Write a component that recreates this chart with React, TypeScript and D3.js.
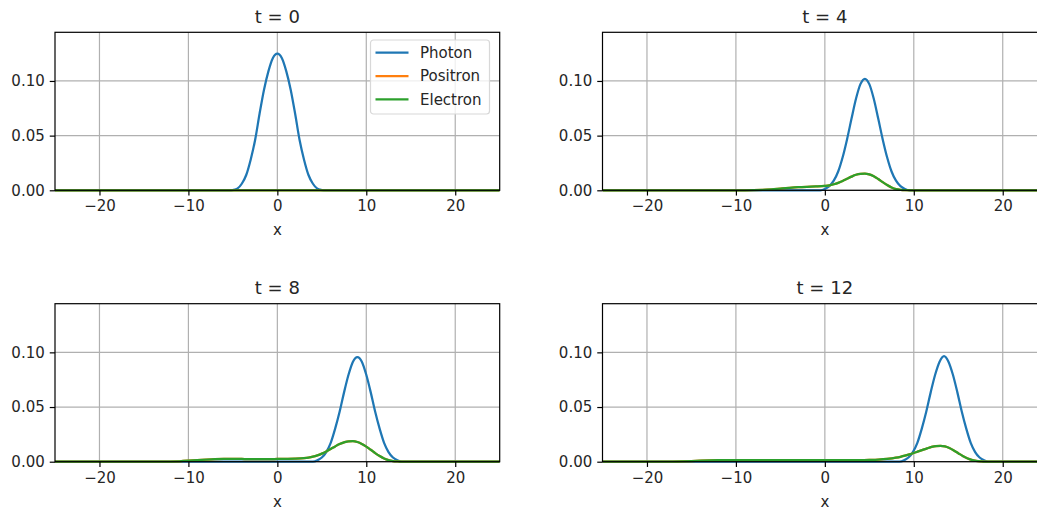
import React, { useEffect, useRef } from "react";
import * as d3 from "d3";

const times = [0, 4, 8, 12];
const seriesNames = ["Photon", "Positron", "Electron"];
const seriesColors = ["#1f77b4", "#ff7f0e", "#2ca02c"];

const photonT0 = [
  [-25, 0], [-5.2, 0], [-4.8, 0.0006], [-4.5, 0.0015], [-4, 0.006], [-3.5, 0.014], [-3, 0.028],
  [-2.5, 0.046], [-2, 0.07], [-1.5, 0.092], [-1, 0.109], [-0.5, 0.121], [0, 0.125],
  [0.5, 0.121], [1, 0.109], [1.5, 0.092], [2, 0.07], [2.5, 0.046], [3, 0.028],
  [3.5, 0.014], [4, 0.006], [4.5, 0.0015], [4.8, 0.0006], [5.2, 0], [25, 0],
];
const electronT0 = [[-25, 0], [0, 0], [25, 0]];

const photonT4 = [
  [-25, 0], [-0.5, 0], [0, 0.0012], [0.5, 0.0038], [1, 0.0088], [1.5, 0.0172],
  [2, 0.0302], [2.5, 0.0468], [3, 0.0656], [3.5, 0.0837], [4, 0.0971], [4.5, 0.102],
  [5, 0.0971], [5.5, 0.0837], [6, 0.0656], [6.5, 0.0468], [7, 0.0302], [7.5, 0.0172],
  [8, 0.0088], [8.5, 0.0038], [9, 0.0012], [9.5, 0], [25, 0],
];
const electronT4 = [
  [-25, 0], [-9, 0], [-7, 0.0003], [-6, 0.0008], [-5, 0.0015], [-4, 0.0022], [-3, 0.0028],
  [-2, 0.0032], [-1, 0.0035], [0, 0.004], [0.5, 0.0045], [1, 0.0055], [1.5, 0.0068],
  [2, 0.0085], [2.5, 0.0105], [3, 0.0125], [3.5, 0.0142], [4, 0.0151], [4.5, 0.0153],
  [5, 0.0145], [5.5, 0.0128], [6, 0.0103], [6.5, 0.0075], [7, 0.0048], [7.5, 0.0026],
  [8, 0.0011], [8.5, 0.0004], [9, 0.0001], [10, 0], [25, 0],
];

const photonT8 = [
  [-25, 0], [4, 0], [4.5, 0.0012], [5, 0.0038], [5.5, 0.0088],
  [6, 0.0172], [6.5, 0.0302], [7, 0.0456], [7.5, 0.0634], [8, 0.0795], [8.5, 0.0915],
  [9, 0.0957], [9.5, 0.0915], [10, 0.0795], [10.5, 0.0634], [11, 0.0456], [11.5, 0.0302],
  [12, 0.0172], [12.5, 0.0088], [13, 0.0038], [13.5, 0.0012], [14, 0], [25, 0],
];
const electronT8 = [
  [-25, 0], [-13, 0], [-11, 0.0004], [-10, 0.0009], [-9, 0.0015], [-8, 0.002], [-7, 0.0024],
  [-6, 0.0026], [-5, 0.0026], [-4, 0.0025], [-3, 0.0024], [-2, 0.0024], [-1, 0.0024],
  [0, 0.0025], [1, 0.0026], [2, 0.0028], [3, 0.0033], [3.5, 0.0038], [4, 0.0046],
  [4.5, 0.0058], [5, 0.0074], [5.5, 0.0094], [6, 0.0117], [6.5, 0.014], [7, 0.0161],
  [7.5, 0.0177], [8, 0.0187], [8.5, 0.0188], [9, 0.018], [9.5, 0.0163], [10, 0.0138],
  [10.5, 0.0109], [11, 0.0079], [11.5, 0.0052], [12, 0.003], [12.5, 0.0015], [13, 0.0006],
  [13.5, 0.0002], [14, 0], [25, 0],
];

const photonT12 = [
  [-25, 0], [8.4, 0], [8.9, 0.0012], [9.4, 0.0038], [9.9, 0.0088],
  [10.4, 0.0172], [10.9, 0.0302], [11.4, 0.0456], [11.9, 0.0634], [12.4, 0.0795], [12.9, 0.0915],
  [13.4, 0.0966], [13.9, 0.0915], [14.4, 0.0795], [14.9, 0.0634], [15.4, 0.0456],
  [15.9, 0.0302], [16.4, 0.0172], [16.9, 0.0088], [17.4, 0.0038], [17.9, 0.0012],
  [18.4, 0], [25, 0],
];
const electronT12 = [
  [-25, 0], [-18, 0], [-16, 0.0003], [-15, 0.0006], [-14, 0.0009], [-13, 0.0012], [-12, 0.0014],
  [-10, 0.0015], [-8, 0.0015], [-6, 0.0014], [-4, 0.0014], [-2, 0.0014], [0, 0.0014],
  [2, 0.0014], [4, 0.0015], [5, 0.0017], [6, 0.002], [7, 0.0026], [8, 0.0037], [8.5, 0.0045],
  [9, 0.0055], [9.5, 0.0067], [10, 0.008], [10.5, 0.0094], [11, 0.0108], [11.5, 0.0122],
  [12, 0.0135], [12.5, 0.0143], [13, 0.0145], [13.5, 0.014], [14, 0.0125], [14.5, 0.0103],
  [15, 0.0078], [15.5, 0.0053], [16, 0.0032], [16.5, 0.0017], [17, 0.0008], [17.5, 0.0003],
  [18, 0], [25, 0],
];

// positron density coincides with electron density
const panels = [
  { t: times[0], series: [photonT0, electronT0, electronT0] },
  { t: times[1], series: [photonT4, electronT4, electronT4] },
  { t: times[2], series: [photonT8, electronT8, electronT8] },
  { t: times[3], series: [photonT12, electronT12, electronT12] },
];

const xTicks = [-20, -10, 0, 10, 20];
const yTicks = [0, 0.05, 0.1];

const App = () => {
  const ref = useRef<SVGSVGElement>(null);

  useEffect(() => {
    document.body.style.margin = "0";
    const root = d3.select(ref.current);
    root.selectAll("*").remove();

    const font = "DejaVu Sans, sans-serif";
    const axW = 444.7;
    const axH = 158;
    const lefts = [55, 602.5];
    const tops = [32.3, 303.7];

    panels.forEach((p, i) => {
      const left = lefts[i % 2];
      const top = tops[Math.floor(i / 2)];

      const x = d3.scaleLinear().domain([-25, 25]).range([0, axW]);
      const y = d3.scaleLinear().domain([0, 0.1445]).range([axH, 0]);

      const g = root.append("g").attr("transform", `translate(${left},${top})`);

      // grid
      g.selectAll("line.gx")
        .data(xTicks)
        .enter()
        .append("line")
        .attr("x1", d => x(d))
        .attr("x2", d => x(d))
        .attr("y1", 0)
        .attr("y2", axH)
        .attr("stroke", "#b0b0b0")
        .attr("stroke-width", 1.2);
      g.selectAll("line.gy")
        .data(yTicks)
        .enter()
        .append("line")
        .attr("x1", 0)
        .attr("x2", axW)
        .attr("y1", d => y(d))
        .attr("y2", d => y(d))
        .attr("stroke", "#b0b0b0")
        .attr("stroke-width", 1.2);

      // clip for lines
      const clipId = `clip${i}`;
      g.append("clipPath")
        .attr("id", clipId)
        .append("rect")
        .attr("x", 0)
        .attr("y", -2)
        .attr("width", axW)
        .attr("height", axH + 4);

      const line = d3
        .line<number[]>()
        .x(d => x(d[0]))
        .y(d => y(d[1]))
        .curve(d3.curveMonotoneX);

      p.series.forEach((s, k) => {
        g.append("path")
          .attr("clip-path", `url(#${clipId})`)
          .attr("d", line(s))
          .attr("fill", "none")
          .attr("stroke", seriesColors[k])
          .attr("stroke-width", 2.25)
          .attr("stroke-linejoin", "round")
          .attr("stroke-linecap", "butt");
      });

      // frame
      g.append("rect")
        .attr("x", 0)
        .attr("y", 0)
        .attr("width", axW)
        .attr("height", axH)
        .attr("fill", "none")
        .attr("stroke", "#000")
        .attr("stroke-width", 1.2);

      // x axis
      const xAxis = g
        .append("g")
        .attr("transform", `translate(0,${axH})`)
        .call(d3.axisBottom(x).tickValues(xTicks).tickSize(5.25).tickPadding(5).tickFormat(d3.format("")));
      xAxis.select(".domain").remove();
      xAxis.selectAll("line").attr("stroke", "#000").attr("stroke-width", 1.2);
      xAxis.selectAll("text")
        .attr("fill", "#262626")
        .style("font-family", font)
        .style("font-size", "15px")
        .text(d => d3.format("")(d as number).replace("-", "\u2212"));

      // y axis
      const yAxis = g
        .append("g")
        .call(d3.axisLeft(y).tickValues(yTicks).tickSize(5.25).tickPadding(5).tickFormat(d3.format(".2f")));
      yAxis.select(".domain").remove();
      yAxis.selectAll("line").attr("stroke", "#000").attr("stroke-width", 1.2);
      yAxis.selectAll("text")
        .attr("fill", "#262626")
        .style("font-family", font)
        .style("font-size", "15px");

      // x label
      g.append("text")
        .attr("x", axW / 2)
        .attr("y", axH + 45)
        .attr("text-anchor", "middle")
        .attr("fill", "#262626")
        .style("font-family", font)
        .style("font-size", "15px")
        .text("x");

      // title
      g.append("text")
        .attr("x", axW / 2)
        .attr("y", -9.5)
        .attr("text-anchor", "middle")
        .attr("fill", "#262626")
        .style("font-family", font)
        .style("font-size", "18px")
        .text(`t = ${p.t}`);

      // legend on first panel
      if (i === 0) {
        const lg = g.append("g").attr("transform", `translate(${370.5 - left},${40 - top})`);
        lg.append("rect")
          .attr("x", 0)
          .attr("y", 0)
          .attr("width", 119)
          .attr("height", 74)
          .attr("rx", 3)
          .attr("fill", "#fff")
          .attr("fill-opacity", 0.8)
          .attr("stroke", "#d8d8d8")
          .attr("stroke-width", 1.2);
        seriesNames.forEach((name, k) => {
          const cy = 12.7 + k * 23.3;
          lg.append("line")
            .attr("x1", 5)
            .attr("x2", 38)
            .attr("y1", cy)
            .attr("y2", cy)
            .attr("stroke", seriesColors[k])
            .attr("stroke-width", 2.25);
          lg.append("text")
            .attr("x", 49.5)
            .attr("y", cy)
            .attr("dy", "0.35em")
            .attr("fill", "#262626")
            .style("font-family", font)
            .style("font-size", "15px")
            .text(name);
        });
      }
    });
  }, []);

  return <svg ref={ref} width={1037} height={512} style={{ display: "block", overflow: "hidden", background: "#fff" }}></svg>;
};

export default App;
